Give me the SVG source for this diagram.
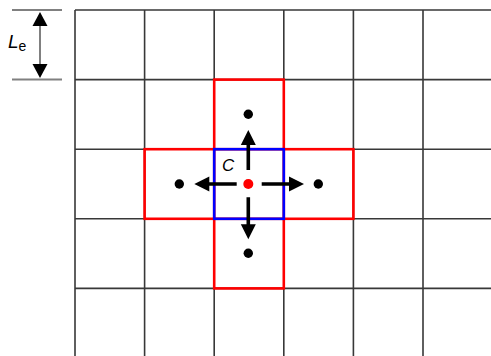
<svg xmlns="http://www.w3.org/2000/svg" width="491" height="356" viewBox="0 0 491 356">
<defs>
<style>
.grid{stroke:#383838;stroke-width:1.6;fill:none}
.dim{stroke:#808080;stroke-width:2;fill:none}
.red{stroke:#ff0000;stroke-width:2.6;fill:none}
.blue{stroke:#0000ff;stroke-width:2.6;fill:none}
.arr{stroke:#000;stroke-width:3.6;fill:none}
.lbl{font-family:"Liberation Sans",Arial,sans-serif;font-style:italic;fill:#000}
</style>
</defs>
<rect width="491" height="356" fill="#fff"/>
<g id="grid">
<path class="grid" d="M75,10V356M144.6,10V356M214.2,10V356M283.8,10V356M353.4,10V356M423,10V356M75,10H491M75,79.6H491M75,149.2H491M75,218.8H491M75,288.4H491"/>
</g>
<g id="dimension">
<path class="dim" d="M12,10H62M12,79.6H62M40,24V66"/>
<polygon points="40,12 32.5,26 47.5,26" fill="#000"/>
<polygon points="40,78 32.5,64 47.5,64" fill="#000"/>
<text class="lbl" x="8" y="48" font-size="19">L<tspan font-style="normal" font-size="14" dy="3">e</tspan></text>
</g>
<g id="neighbours">
<rect class="red" x="214.2" y="79.6" width="69.6" height="69.6"/>
<rect class="red" x="144.6" y="149.2" width="69.6" height="69.6"/>
<rect class="red" x="283.8" y="149.2" width="69.6" height="69.6"/>
<rect class="red" x="214.2" y="218.8" width="69.6" height="69.6"/>
</g>
<g id="cell-C">
<rect class="blue" x="214.2" y="149.2" width="69.6" height="69.6"/>
<text class="lbl" x="222" y="171" font-size="17">C</text>
</g>
<g id="connectors">
<path class="arr" d="M248.3,170V142M236.7,184H208M261.7,184H290M248.3,197.3V226"/>
<polygon points="248.3,130 240.8,145 255.8,145"/>
<polygon points="194.3,184 209.3,176.5 209.3,191.5"/>
<polygon points="304,184 289,176.5 289,191.5"/>
<polygon points="248.3,239.3 240.8,224.3 255.8,224.3"/>
</g>
<g id="dots">
<circle cx="248.3" cy="184" r="5" fill="#ff0000"/>
<circle cx="248.3" cy="114.3" r="4.7" fill="#000"/>
<circle cx="179.3" cy="184" r="4.7" fill="#000"/>
<circle cx="318.3" cy="184" r="4.7" fill="#000"/>
<circle cx="248.3" cy="253.3" r="4.7" fill="#000"/>
</g>
</svg>
